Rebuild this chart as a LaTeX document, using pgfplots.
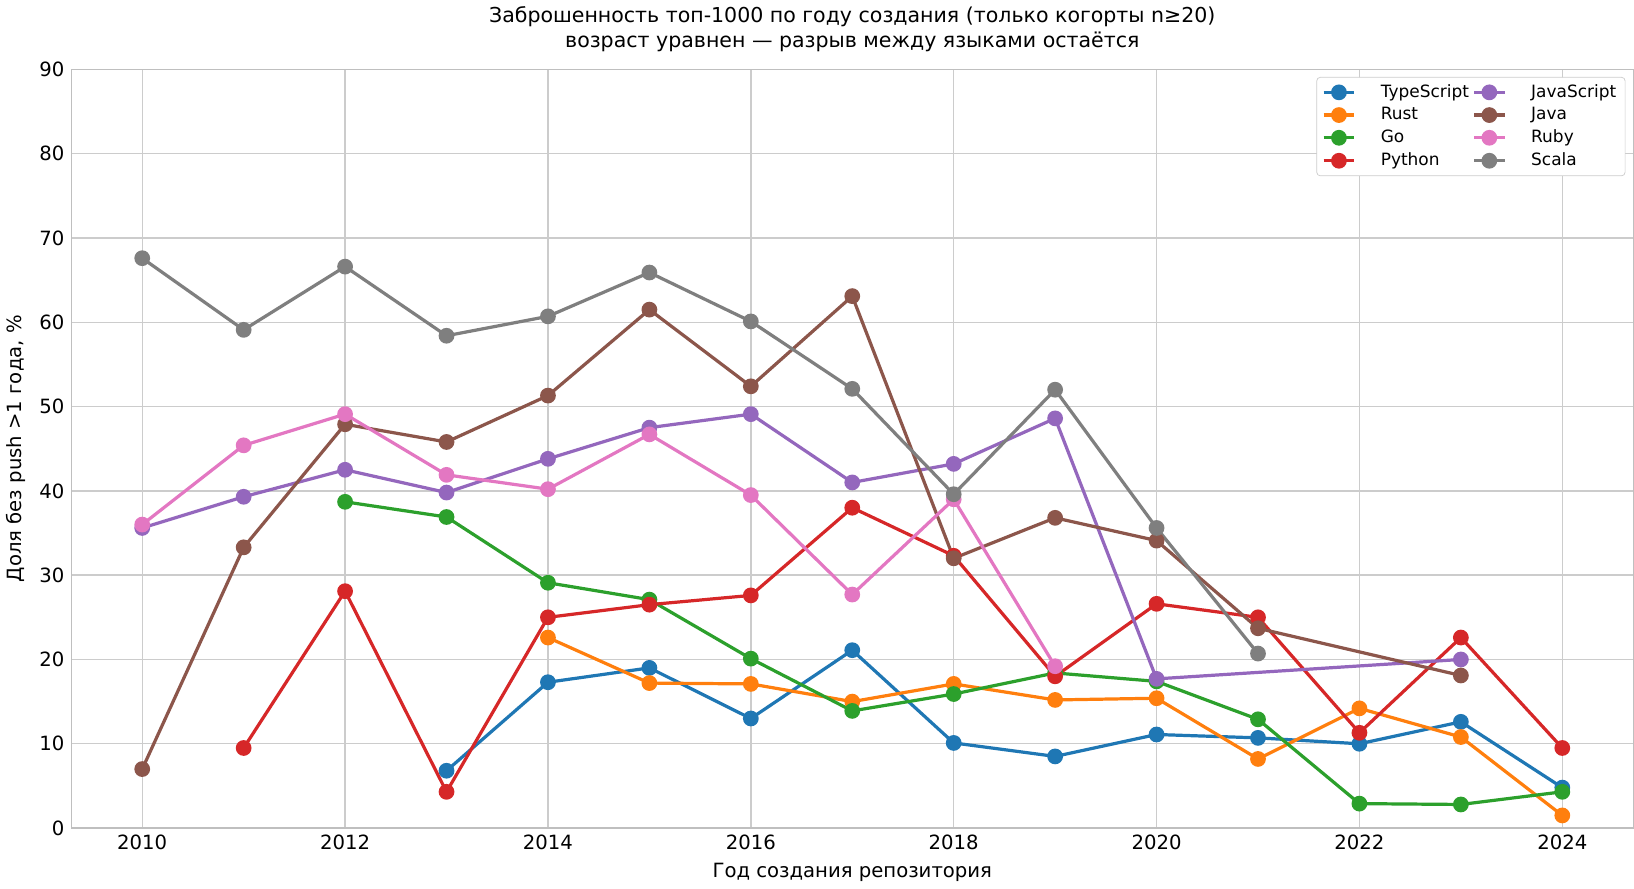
\documentclass[border=0pt]{standalone}
\usepackage{pgfplots}
\pgfplotsset{compat=1.18}
\usepackage{fontspec}
\setmainfont{DejaVu Sans}
\definecolor{c1}{HTML}{1F77B4}\definecolor{c2}{HTML}{FF7F0E}\definecolor{c3}{HTML}{2CA02C}\definecolor{c4}{HTML}{D62728}
\definecolor{c5}{HTML}{9467BD}\definecolor{c6}{HTML}{8C564B}\definecolor{c7}{HTML}{E377C2}\definecolor{c8}{HTML}{7F7F7F}
\begin{document}
\fontsize{11pt}{13pt}\selectfont
\begin{tikzpicture}
\begin{axis}[
  width=875pt, height=425pt, scale only axis,
  xmin=2009.3, xmax=2024.7, ymin=0, ymax=90,
  xtick={2010,2012,...,2024}, ytick={0,10,...,90},
  /pgf/number format/assume math mode=true,
  xticklabel style={/pgf/number format/1000 sep={}},
  tick label style={font=\fontsize{11pt}{13pt}\selectfont},
  grid=major, grid style={color=black!20, line width=0.8pt},
  axis line style={black!25, line width=0.8pt},
  major tick length=0pt,
  xlabel={Год создания репозитория}, ylabel={Доля без push >1 года, \%},
  label style={font=\fontsize{11pt}{13pt}\selectfont},
  title={Заброшенность топ-1000 по году создания (только когорты n≥20)\\возраст уравнен — разрыв между языками остаётся},
  title style={align=center, font=\fontsize{11.5pt}{14pt}\selectfont},
  legend columns=4, transpose legend, legend cell align=left,
  legend style={at={(0.995,0.99)}, anchor=north east, font=\fontsize{9.5pt}{11pt}\selectfont, draw=black!20, rounded corners=2pt, /tikz/every odd column/.append style={column sep=12pt}},
  every axis plot/.append style={line width=1.8pt, mark=*, mark size=3.5pt},
]
\addplot[c1] coordinates {(2013,6.8)(2014,17.3)(2015,19)(2016,13)(2017,21.1)(2018,10.1)(2019,8.5)(2020,11.1)(2021,10.7)(2022,10)(2023,12.6)(2024,4.8)};
\addlegendentry{TypeScript}
\addplot[c2] coordinates {(2014,22.6)(2015,17.2)(2016,17.1)(2017,15)(2018,17.1)(2019,15.2)(2020,15.4)(2021,8.2)(2022,14.2)(2023,10.8)(2024,1.5)};
\addlegendentry{Rust}
\addplot[c3] coordinates {(2012,38.7)(2013,36.9)(2014,29.1)(2015,27.1)(2016,20.1)(2017,13.9)(2018,15.9)(2019,18.4)(2020,17.4)(2021,12.9)(2022,2.9)(2023,2.8)(2024,4.3)};
\addlegendentry{Go}
\addplot[c4] coordinates {(2011,9.5)(2012,28.1)(2013,4.3)(2014,25)(2015,26.5)(2016,27.6)(2017,38)(2018,32.3)(2019,18)(2020,26.6)(2021,25)(2022,11.3)(2023,22.6)(2024,9.5)};
\addlegendentry{Python}
\addplot[c5] coordinates {(2010,35.6)(2011,39.3)(2012,42.5)(2013,39.8)(2014,43.8)(2015,47.5)(2016,49.1)(2017,41)(2018,43.2)(2019,48.6)(2020,17.7)(2023,20)};
\addlegendentry{JavaScript}
\addplot[c6] coordinates {(2010,7)(2011,33.3)(2012,47.9)(2013,45.8)(2014,51.3)(2015,61.5)(2016,52.4)(2017,63.1)(2018,32)(2019,36.8)(2020,34.1)(2021,23.7)(2023,18.1)};
\addlegendentry{Java}
\addplot[c7] coordinates {(2010,36)(2011,45.4)(2012,49.1)(2013,41.9)(2014,40.2)(2015,46.7)(2016,39.5)(2017,27.7)(2018,39)(2019,19.2)};
\addlegendentry{Ruby}
\addplot[c8] coordinates {(2010,67.6)(2011,59.1)(2012,66.6)(2013,58.4)(2014,60.7)(2015,65.9)(2016,60.1)(2017,52.1)(2018,39.6)(2019,52)(2020,35.6)(2021,20.7)};
\addlegendentry{Scala}
\end{axis}
\end{tikzpicture}
\end{document}
